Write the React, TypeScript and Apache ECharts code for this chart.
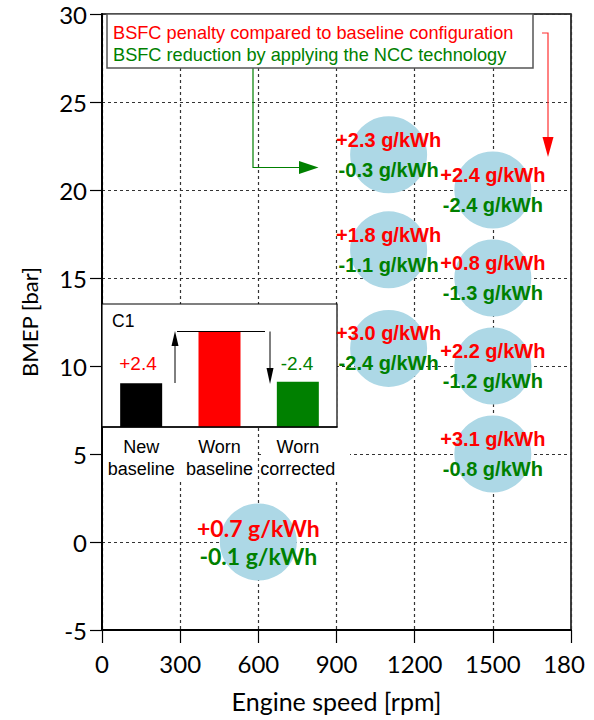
import React, { useEffect, useRef } from "react";
import * as echarts from "echarts";

// ---- main chart data ----
const xTicks = ["0", "300", "600", "900", "1200", "1500", "180"];
const speeds = [1100, 1500, 1100, 1500, 1100, 1500, 1500, 600];
const bmep = [22, 20, 16.6, 15, 11, 10, 5, 0];
const penalty = ["+2.3", "+2.4", "+1.8", "+0.8", "+3.0", "+2.2", "+3.1", "+0.7"];
const reduction = ["-0.3", "-2.4", "-1.1", "-1.3", "-2.4", "-1.2", "-0.8", "-0.1"];
// label placement relative to each circle (px)
const labelShift = [[1, -2], [13, -2], [1, 0], [13, 1], [1, -2], [13, 2], [13, -8], [-1, 4]];

// ---- inset C1 data ----
const insetCats = ["New\nbaseline", "Worn\nbaseline", "Worn\ncorrected"];
const insetValues = [2.13, 4.65, 2.21];
const insetColors = ["#000000", "#ff0000", "#008000"];

const RED = "#ff0000";
const GREEN = "#008000";

export default function App() {
  const ref = useRef<HTMLDivElement>(null);
  useEffect(() => {
    if (!ref.current) return;
    const chart = echarts.init(ref.current, undefined, { renderer: "svg" });

    const labelData = speeds.map((s, i) => {
      const last = i === speeds.length - 1;
      return {
        value: [s, bmep[i]],
        label: {
          offset: labelShift[i],
          formatter: last
            ? `{r2|${penalty[i]} g/kWh}\n{g2|${reduction[i]} g/kWh}`
            : `{r|${penalty[i]} g/kWh}\n{g|${reduction[i]} g/kWh}`,
        },
      };
    });

    const noBorder = { textBorderWidth: 0, textBorderColor: "transparent", textShadowBlur: 0 };

    const option: any = {
      animation: false,
      grid: [
        { left: 102, right: 23, top: 14, bottom: 90, show: true, borderColor: "#000", borderWidth: 1.5, backgroundColor: "transparent" },
        { left: 102, top: 304, width: 235, height: 123 },
      ],
      xAxis: [
        {
          type: "value",
          gridIndex: 0,
          min: 0,
          max: 1800,
          interval: 300,
          name: "Engine speed [rpm]",
          nameLocation: "middle",
          nameGap: 58,
          nameTextStyle: { fontFamily: "Lato", fontSize: 25, color: "#000" },
          axisLine: { show: true, onZero: false, lineStyle: { color: "#000", width: 2 } },
          axisTick: { show: true, length: 13, lineStyle: { color: "#000", width: 1.2 } },
          axisLabel: {
            fontFamily: "Lato",
            fontSize: 24,
            color: "#000",
            margin: 21,
            formatter: (v: number) => {
              const idx = Math.round(v / 300);
              return idx === xTicks.length - 1 ? `{last|${xTicks[idx]}}` : xTicks[idx];
            },
            rich: { last: { fontFamily: "Lato", fontSize: 24, color: "#000", padding: [0, 14, 0, 0] } },
          },
          splitLine: { show: true, lineStyle: { color: "#333", width: 1.2, type: [3, 3] } },
        },
        {
          type: "category",
          gridIndex: 1,
          data: insetCats,
          z: 6,
          axisLine: { show: true, onZero: false, lineStyle: { color: "#000", width: 1.5 } },
          axisTick: { show: false },
          axisLabel: {
            interval: 0,
            fontFamily: "Liberation Sans",
            fontSize: 18,
            lineHeight: 22,
            color: "#000",
            margin: 9,
          },
        },
      ],
      yAxis: [
        {
          type: "value",
          gridIndex: 0,
          min: -5,
          max: 30,
          interval: 5,
          name: "BMEP [bar]",
          nameLocation: "middle",
          nameGap: 62,
          nameTextStyle: { fontFamily: "Lato", fontSize: 22, color: "#000" },
          axisLine: { show: true, onZero: false, lineStyle: { color: "#000", width: 2 } },
          axisTick: { show: true, length: 12, lineStyle: { color: "#000", width: 1.2 } },
          axisLabel: { fontFamily: "Lato", fontSize: 24, color: "#000", margin: 15 },
          splitLine: { show: true, lineStyle: { color: "#333", width: 1.2, type: [3, 3] } },
        },
        { type: "value", gridIndex: 1, min: 0, max: 6, show: false },
      ],
      series: [
        {
          type: "scatter",
          xAxisIndex: 0,
          yAxisIndex: 0,
          symbol: "circle",
          symbolSize: 77,
          itemStyle: { color: "#ADD8E6", opacity: 1 },
          z: 3,
          data: speeds.map((s, i) => [s, bmep[i]]),
        },
        {
          type: "scatter",
          xAxisIndex: 0,
          yAxisIndex: 0,
          symbolSize: 1,
          itemStyle: { color: "rgba(0,0,0,0)", opacity: 1 },
          z: 6,
          label: {
            show: true,
            position: "inside",
            ...noBorder,
            rich: {
              r: { fontFamily: "Liberation Sans", fontWeight: "bold", fontSize: 20, color: RED, lineHeight: 30, ...noBorder },
              g: { fontFamily: "Liberation Sans", fontWeight: "bold", fontSize: 20, color: GREEN, lineHeight: 30, ...noBorder },
              r2: { fontFamily: "Lato", fontWeight: "bold", fontSize: 23, color: RED, lineHeight: 28, ...noBorder },
              g2: { fontFamily: "Lato", fontWeight: "bold", fontSize: 23, color: GREEN, lineHeight: 28, ...noBorder },
            },
          },
          labelLayout: { hideOverlap: false },
          data: labelData,
        },
        {
          type: "bar",
          xAxisIndex: 1,
          yAxisIndex: 1,
          barWidth: 42,
          z: 4,
          data: insetValues.map((v, i) => ({ value: v, itemStyle: { color: insetColors[i] } })),
        },
      ],
      graphic: [
        // legend box
        { type: "rect", z: 10, shape: { x: 107, y: 14, width: 426, height: 54 }, style: { fill: "#fff", stroke: "#555", lineWidth: 1.5 } },
        { type: "text", z: 11, x: 113, y: 33, style: { text: "BSFC penalty compared to baseline configuration", fill: RED, fontFamily: "Liberation Sans", fontSize: 18.2, verticalAlign: "middle", textVerticalAlign: "middle" } },
        { type: "text", z: 11, x: 113, y: 55, style: { text: "BSFC reduction by applying the NCC technology", fill: GREEN, fontFamily: "Liberation Sans", fontSize: 18.2, verticalAlign: "middle", textVerticalAlign: "middle" } },
        // green arrow
        { type: "polyline", z: 9, shape: { points: [[253, 68], [253, 167.5], [300, 167.5]] }, style: { stroke: GREEN, lineWidth: 1.2, fill: null } },
        { type: "polygon", z: 9, shape: { points: [[299, 161], [318.5, 167.5], [299, 174]] }, style: { fill: GREEN } },
        // red arrow
        { type: "polyline", z: 9, shape: { points: [[542, 33], [548, 33], [548, 138]] }, style: { stroke: "#ff3030", lineWidth: 1.2, fill: null } },
        { type: "polygon", z: 9, shape: { points: [[542.5, 137], [548, 157], [553.5, 137]] }, style: { fill: RED } },
        // inset frame and label cover
        { type: "rect", z: 1, shape: { x: 102, y: 304, width: 235, height: 123 }, style: { fill: "#fff", stroke: "#000", lineWidth: 1.2 } },
        { type: "rect", z: 1, shape: { x: 103, y: 428, width: 153, height: 52 }, style: { fill: "#fff" } },
        { type: "rect", z: 1, shape: { x: 262, y: 428, width: 88, height: 52 }, style: { fill: "#fff" } },
        { type: "text", z: 7, x: 112, y: 321, style: { text: "C1", fill: "#000", fontFamily: "Liberation Sans", fontSize: 17.5, verticalAlign: "middle", textVerticalAlign: "middle" } },
        { type: "text", z: 7, x: 138, y: 363, style: { text: "+2.4", fill: RED, fontFamily: "Liberation Sans", fontSize: 19, align: "center", textAlign: "center", verticalAlign: "middle", textVerticalAlign: "middle" } },
        { type: "text", z: 7, x: 297, y: 363, style: { text: "-2.4", fill: GREEN, fontFamily: "Liberation Sans", fontSize: 19, align: "center", textAlign: "center", verticalAlign: "middle", textVerticalAlign: "middle" } },
        // inset arrows
        { type: "line", z: 7, shape: { x1: 175, y1: 383, x2: 175, y2: 345 }, style: { stroke: "#000", lineWidth: 1 } },
        { type: "polygon", z: 7, shape: { points: [[171.5, 346], [175, 331], [178.5, 346]] }, style: { fill: "#000" } },
        { type: "line", z: 7, shape: { x1: 177, y1: 331.5, x2: 265, y2: 331.5 }, style: { stroke: "#000", lineWidth: 1 } },
        { type: "line", z: 7, shape: { x1: 270, y1: 331.5, x2: 270, y2: 369 }, style: { stroke: "#000", lineWidth: 1 } },
        { type: "polygon", z: 7, shape: { points: [[266.5, 368], [270, 384], [273.5, 368]] }, style: { fill: "#000" } },
      ],
    };
    chart.setOption(option);
    return () => chart.dispose();
  }, []);
  return <div ref={ref} style={{ position: "absolute", left: 0, top: 0, width: 594, height: 720, background: "#fff" }} />;
}
